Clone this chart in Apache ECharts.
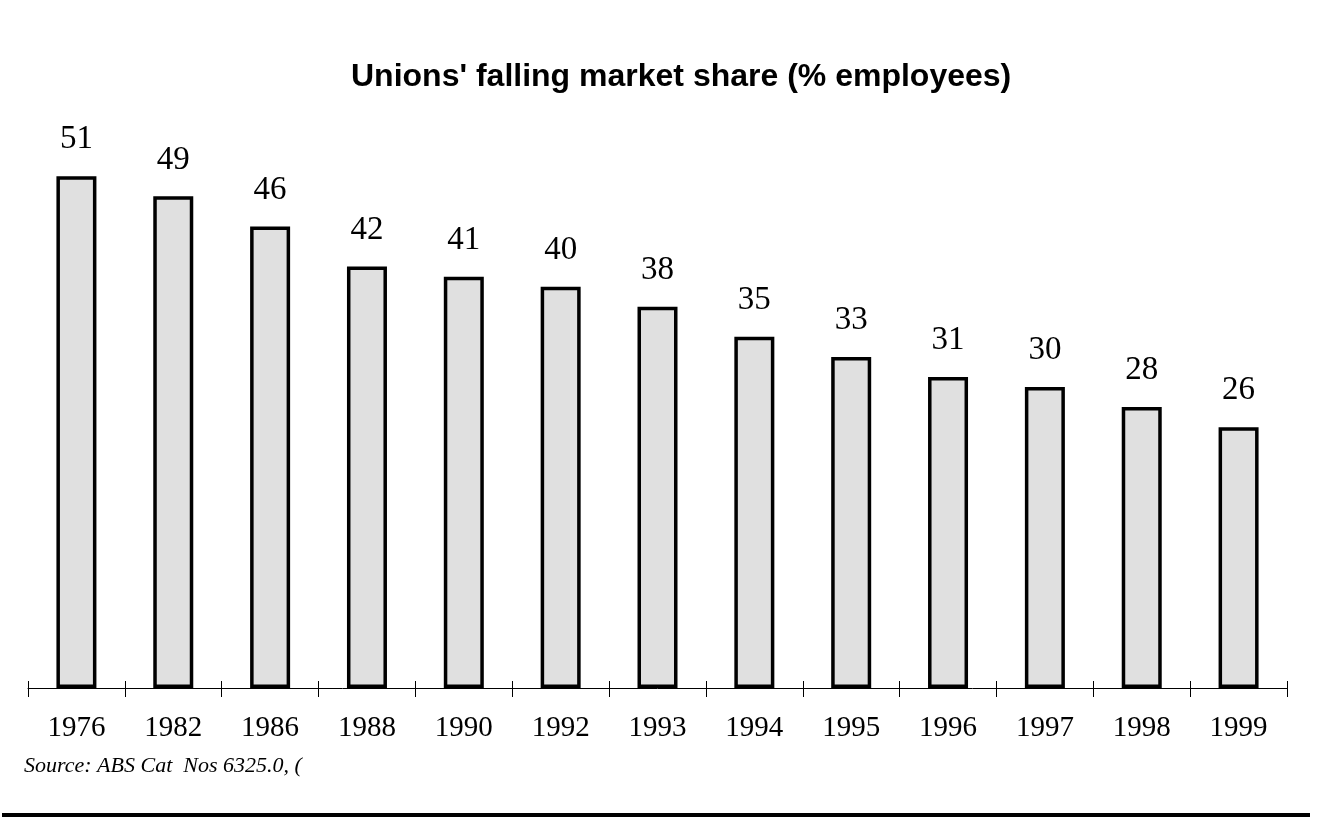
<!DOCTYPE html>
<html>
<head>
<meta charset="utf-8">
<style>
  html, body { margin: 0; padding: 0; background: #fff; }
  #chart { width: 1322px; height: 822px; }
</style>
<script src="https://cdn.jsdelivr.net/npm/echarts@6/dist/echarts.min.js"></script>
</head>
<body>
<div id="chart"></div>
<script>
var years = ["1976", "1982", "1986", "1988", "1990", "1992", "1993", "1994", "1995", "1996", "1997", "1998", "1999"];
var share = [51, 49, 46, 42, 41, 40, 38, 35, 33, 31, 30, 28, 26];
var titleText = "Unions' falling market share (% employees)";
var sourceText = "Source: ABS Cat  Nos 6325.0, (";

var chart = echarts.init(document.getElementById("chart"));
var serif = "'Liberation Serif', 'DejaVu Serif', serif";

var option = {
  backgroundColor: "#fff",
  animation: false,
  title: {
    text: titleText,
    left: 346,
    top: 56,
    textStyle: {
      fontFamily: "'Liberation Sans', Arial, sans-serif",
      fontWeight: "bold",
      fontSize: 32,
      color: "#000"
    }
  },
  grid: {
    left: 28,
    right: 35,
    top: 86,
    bottom: 134
  },
  xAxis: [
    {
      type: "category",
      data: years,
      axisLine: { lineStyle: { color: "#000", width: 1 } },
      axisTick: { show: true, length: 9, lineStyle: { color: "#000" } },
      axisLabel: {
        color: "#000",
        fontFamily: serif,
        fontSize: 29,
        margin: 26
      }
    },
    {
      // 向上的刻度，做成十字刻度
      type: "category",
      data: years,
      position: "bottom",
      axisLine: { show: false },
      axisTick: { show: true, inside: true, length: 7, lineStyle: { color: "#000" } },
      axisLabel: { show: false }
    }
  ],
  yAxis: {
    type: "value",
    min: 0,
    max: 60,
    show: false,
    splitLine: { show: false }
  },
  series: [
    {
      type: "bar",
      data: share,
      barWidth: 40,
      itemStyle: {
        color: "#e0e0e0",
        borderColor: "#000",
        borderWidth: 3.5
      },
      label: {
        show: true,
        position: "top",
        distance: 20,
        color: "#000",
        fontFamily: serif,
        fontSize: 33
      }
    }
  ],
  graphic: [
    {
      type: "text",
      left: 24,
      top: 755,
      style: {
        text: sourceText,
        fontFamily: serif,
        fontStyle: "italic",
        fontSize: 22,
        fill: "#000"
      }
    },
    {
      type: "rect",
      left: 2,
      top: 813,
      shape: { width: 1308, height: 4 },
      style: { fill: "#000" }
    }
  ]
};

chart.setOption(option);
</script>
</body>
</html>
